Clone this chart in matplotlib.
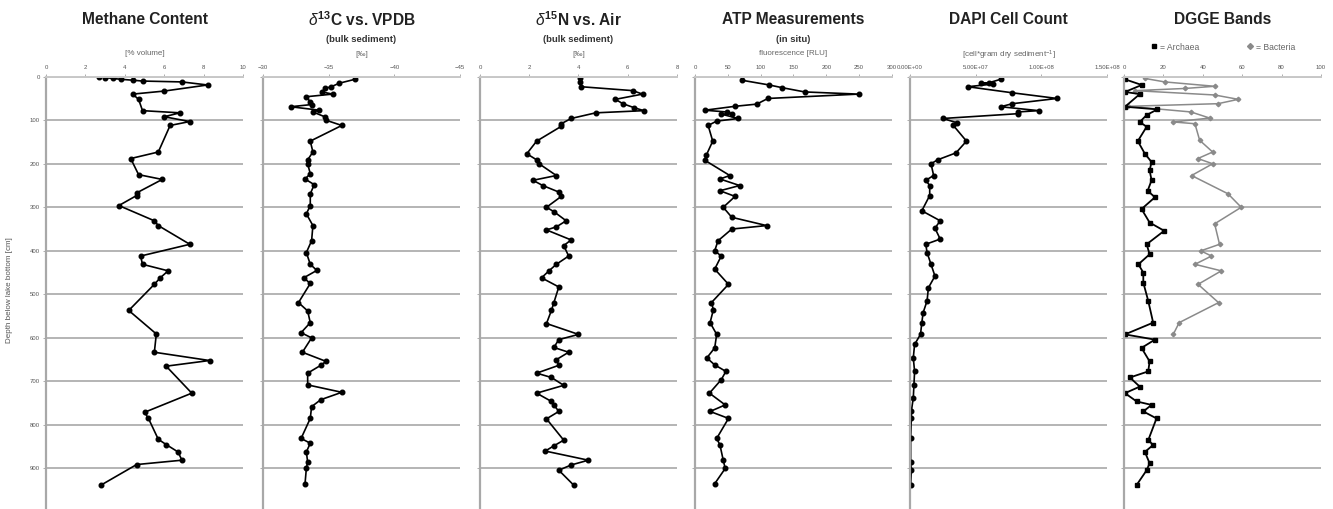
import matplotlib
matplotlib.use('Agg')
import matplotlib.pyplot as plt
from matplotlib.lines import Line2D
import numpy as np

plt.rcParams['font.family'] = ['Liberation Sans', 'DejaVu Sans']
plt.rcParams['mathtext.fontset'] = 'custom'
plt.rcParams['mathtext.rm'] = 'Liberation Sans'
plt.rcParams['mathtext.it'] = 'Liberation Sans:italic'
plt.rcParams['mathtext.bf'] = 'Liberation Sans:bold'

# ---- data (depth in cm below lake bottom) ----
methane_depth = [0, 2, 4, 6, 8, 10, 12, 19, 33, 40, 52, 78, 83, 92, 103, 112, 173, 188, 225, 236,
                 267, 273, 296, 331, 342, 385, 412, 431, 446, 462, 477, 537, 591, 633, 652, 665,
                 727, 771, 785, 833, 845, 862, 881, 891, 938]
methane = [2.7, 3.0, 3.4, 3.8, 4.4, 4.9, 6.9, 8.2, 6.0, 4.4, 4.7, 4.9, 6.8, 6.0, 7.3, 6.3, 5.7, 4.3,
           4.7, 5.9, 4.6, 4.6, 3.7, 5.5, 5.7, 7.3, 4.8, 4.9, 6.2, 5.8, 5.5, 4.2, 5.6, 5.5, 8.3, 6.1,
           7.4, 5.0, 5.2, 5.7, 6.1, 6.7, 6.9, 4.6, 2.8]

d13c_depth = [6, 15, 23, 27, 35, 40, 46, 58, 64, 69, 77, 81, 92, 100, 112, 148, 173, 191, 200, 223,
              235, 248, 269, 296, 315, 342, 377, 404, 431, 445, 462, 475, 519, 538, 565, 588, 600,
              633, 654, 663, 681, 708, 725, 742, 758, 785, 831, 842, 862, 885, 900, 935]
d13c = [-37.0, -35.8, -35.2, -34.7, -34.5, -35.3, -33.3, -33.6, -33.7, -32.1, -34.3, -33.8, -34.7,
        -34.8, -36.0, -33.6, -33.8, -33.4, -33.4, -33.6, -33.2, -33.9, -33.6, -33.6, -33.3, -33.8,
        -33.7, -33.3, -33.6, -34.1, -33.1, -33.6, -32.7, -33.4, -33.6, -32.9, -33.7, -33.0, -34.8,
        -34.4, -33.4, -33.4, -36.0, -34.4, -33.7, -33.6, -32.9, -33.6, -33.3, -33.4, -33.3, -33.2]

d15n_depth = [4, 12, 23, 32, 40, 52, 62, 71, 78, 83, 96, 108, 114, 148, 177, 191, 200, 227, 238, 250,
              265, 275, 300, 310, 331, 345, 352, 375, 388, 412, 431, 446, 462, 483, 519, 537, 567,
              592, 604, 622, 633, 650, 663, 681, 691, 709, 727, 746, 754, 769, 786, 835, 848, 860,
              881, 892, 904, 938]
d15n = [4.07, 4.05, 4.1, 6.2, 6.6, 5.5, 5.8, 6.25, 6.65, 4.7, 3.7, 3.3, 3.3, 2.3, 1.9, 2.3, 2.4, 3.1,
        2.15, 2.55, 3.2, 3.3, 2.7, 3.0, 3.5, 3.1, 2.7, 3.7, 3.4, 3.6, 3.1, 2.8, 2.5, 3.2, 3.0, 2.9,
        2.7, 4.0, 3.2, 3.0, 3.6, 3.1, 3.2, 2.3, 2.9, 3.4, 2.3, 2.9, 3.0, 3.2, 2.7, 3.4, 3.0, 2.65,
        4.4, 3.7, 3.2, 3.8]

atp_depth = [8, 19, 25, 35, 40, 50, 63, 68, 77, 81, 85, 86, 96, 102, 112, 148, 181, 192, 227, 235,
             250, 262, 275, 300, 323, 342, 350, 377, 400, 412, 442, 477, 519, 535, 565, 592, 623,
             646, 662, 677, 696, 727, 754, 769, 785, 831, 846, 881, 900, 935]
atp = [71, 113, 132, 167, 249, 111, 94, 61, 15, 48, 56, 40, 66, 33, 20, 27, 17, 15, 53, 38, 68, 38,
       61, 43, 56, 109, 56, 35, 30, 40, 30, 51, 25, 28, 23, 33, 30, 18, 30, 47, 40, 22, 46, 23, 51,
       33, 38, 43, 46, 30]

dapi_depth = [6, 14, 15, 17, 23, 37, 50, 62, 69, 78, 81, 85, 96, 106, 112, 148, 175, 191, 200, 227,
              238, 250, 273, 308, 331, 348, 373, 385, 404, 431, 458, 485, 515, 542, 565, 592, 615,
              646, 677, 708, 738, 769, 785, 831, 885, 904, 938]
dapi = [6.9e7, 6.0e7, 5.4e7, 6.3e7, 4.4e7, 7.8e7, 11.2e7, 7.8e7, 6.9e7, 9.8e7, 8.2e7, 8.2e7, 2.5e7,
        3.6e7, 3.3e7, 4.3e7, 3.5e7, 2.1e7, 1.6e7, 1.8e7, 1.2e7, 1.5e7, 1.5e7, 0.9e7, 2.3e7, 1.9e7,
        2.3e7, 1.2e7, 1.3e7, 1.6e7, 1.9e7, 1.4e7, 1.3e7, 1.0e7, 0.9e7, 0.8e7, 0.35e7, 0.25e7,
        0.35e7, 0.3e7, 0.25e7, 0.1e7, 0.1e7, 0.05e7, 0.05e7, 0.1e7, 0.05e7]

archaea_depth = [6, 19, 35, 40, 69, 75, 88, 104, 115, 148, 177, 196, 215, 238, 262, 277, 304, 335,
                 354, 385, 408, 431, 450, 473, 515, 565, 592, 604, 623, 654, 677, 691, 712, 727,
                 746, 754, 769, 785, 835, 846, 862, 888, 904, 938]
archaea = [0.5, 9, 0.5, 8, 0.5, 17, 11.5, 8, 11.5, 7, 10.6, 14, 13, 14, 12, 15.7, 8.9, 13, 20.4,
           11.5, 13, 7.3, 9.8, 9.8, 12.3, 14.8, 0.5, 15.7, 8.9, 13, 12.3, 3, 8, 0.5, 6.4, 14, 9.8,
           16.5, 12.3, 14.8, 10.6, 13, 11.5, 6.4]

bacteria_depth = [4, 12, 22, 27, 32, 42, 52, 62, 68, 81, 95, 104, 108, 146, 173, 188, 200, 227, 269,
                  300, 338, 385, 400, 412, 431, 446, 477, 519, 565, 592]
bacteria = [10.6, 20.7, 46, 31, 5.6, 46, 58, 47.7, 2.2, 34, 43.5, 25, 36, 38.4, 45, 37.5, 45, 34.3,
            52.8, 59.5, 46, 48.5, 39, 44.4, 36, 49.4, 37.6, 48, 28, 25]

# ---- layout (pixels of the 1333x509 image) ----
W, H = 1333, 509
lefts = [46, 263, 480, 695, 910, 1124]
width = 197
top_px = 76.7
bot_px = 512.0

fig = plt.figure(figsize=(W / 100, H / 100), dpi=100)

axes = []
for left in lefts:
    ax = fig.add_axes([left / W, 1 - bot_px / H, width / W, (bot_px - top_px) / H])
    ax.set_ylim(1000, 0)
    ax.set_yticks(np.arange(0, 1001, 100))
    ax.yaxis.grid(True, color='#b4b4b4', lw=1.4)
    ax.set_axisbelow(True)
    ax.xaxis.tick_top()
    for s in ['right', 'bottom']:
        ax.spines[s].set_visible(False)
    ax.spines['left'].set_color('#a8a8a8')
    ax.spines['left'].set_linewidth(1.6)
    ax.spines['top'].set_color('#c8c8c8')
    ax.spines['top'].set_linewidth(1.4)
    ax.tick_params(axis='both', colors='#a0a0a0', labelcolor='#555555', labelsize=4.3,
                   length=2.5, width=0.6, pad=2)
    ax.tick_params(axis='y', labelleft=False)
    axes.append(ax)

ax1, ax2, ax3, ax4, ax5, ax6 = axes
ax1.tick_params(axis='y', labelleft=True)

line_kw = dict(color='black', lw=1.2, marker='o', ms=3.3)

ax1.plot(methane, methane_depth, **line_kw)
ax1.set_xlim(0, 10)
ax1.set_xticks(np.arange(0, 11, 2))

ax2.plot(d13c, d13c_depth, **line_kw)
ax2.set_xlim(-30, -45)
ax2.set_xticks([-30, -35, -40, -45])

ax3.plot(d15n, d15n_depth, **line_kw)
ax3.set_xlim(0, 8)
ax3.set_xticks(np.arange(0, 9, 2))

ax4.plot(atp, atp_depth, **line_kw)
ax4.set_xlim(0, 300)
ax4.set_xticks(np.arange(0, 301, 50))

ax5.plot(dapi, dapi_depth, **line_kw)
ax5.set_xlim(0, 1.5e8)
ax5.set_xticks([0, 5e7, 1e8, 1.5e8])
ax5.set_xticklabels(['%.2E' % v for v in [0, 5e7, 1e8, 1.5e8]])

ax6.plot(bacteria, bacteria_depth, color='#8a8a8a', lw=1.1, marker='D', ms=2.3)
ax6.plot(archaea, archaea_depth, color='black', lw=1.3, marker='s', ms=3.0)
ax6.set_xlim(0, 100)
ax6.set_xticks(np.arange(0, 101, 20))

# ---- header texts ----
def ftext(x, y, s, **kw):
    fig.text(x / W, 1 - y / H, s, ha='center', va='center', **kw)

centers = [l + width / 2 for l in lefts]
titles = ['Methane Content', r'$\delta^{\mathbf{13}}$C vs. VPDB', r'$\delta^{\mathbf{15}}$N vs. Air',
          'ATP Measurements', 'DAPI Cell Count', 'DGGE Bands']
for c, t in zip(centers, titles):
    ftext(c, 20, t, fontsize=11.2, fontweight='bold', color='#222222')

ftext(centers[1], 40, '(bulk sediment)', fontsize=6.8, fontweight='bold', color='#333333')
ftext(centers[2], 40, '(bulk sediment)', fontsize=6.8, fontweight='bold', color='#333333')
ftext(centers[3], 40, '(in situ)', fontsize=6.8, fontweight='bold', color='#333333')

unit_kw = dict(fontsize=5.8, color='#666666')
ftext(centers[0], 53, '[% volume]', **unit_kw)
ftext(centers[1], 54, '[‰]', **unit_kw)
ftext(centers[2], 54, '[‰]', **unit_kw)
ftext(centers[3], 53, 'fluorescence [RLU]', **unit_kw)
ftext(centers[4], 55, r'[cell*gram dry sediment$^{-1}$]', **unit_kw)

handles = [Line2D([], [], color='black', marker='s', ls='none', ms=3.5),
           Line2D([], [], color='#8a8a8a', marker='D', ls='none', ms=3.0)]
fig.legend(handles, ['= Archaea', '= Bacteria'], loc='center',
           bbox_to_anchor=(centers[5] / W, 1 - 47 / H), ncol=2, frameon=False,
           fontsize=6.2, handlelength=0.8, handletextpad=0.3, columnspacing=5.5,
           labelcolor='#666666')

fig.text(10 / W, 1 - 290 / H, 'Depth below lake bottom [cm]', rotation=90,
         ha='center', va='center', fontsize=5.8, color='#555555')

fig.savefig('out.png', dpi=100)
